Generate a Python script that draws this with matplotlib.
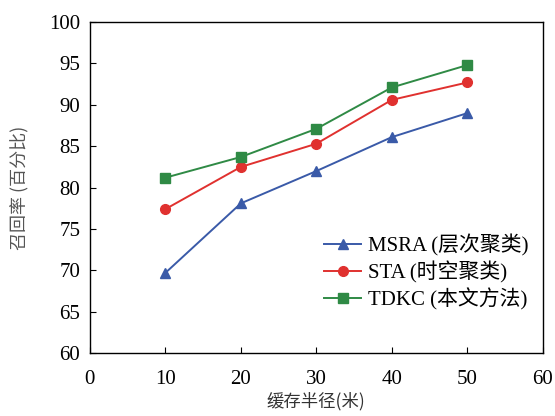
import matplotlib
matplotlib.use('Agg')
import matplotlib.pyplot as plt

plt.rcParams['font.family'] = ['Liberation Serif', 'Noto Sans CJK SC']

radius = [10, 20, 30, 40, 50]
msra = [69.7, 78.1, 82.0, 86.1, 89.0]
sta = [77.4, 82.5, 85.3, 90.6, 92.7]
tdkc = [81.2, 83.7, 87.1, 92.1, 94.8]

fig = plt.figure(figsize=(5.55, 4.16), dpi=100)
ax = fig.add_axes([0.162, 0.151, 0.816, 0.796])

ax.plot(radius, msra, color='#3a5aa8', marker='^', markersize=7, linewidth=1.4, label='MSRA (层次聚类)')
ax.plot(radius, sta, color='#e0312f', marker='o', markersize=7, linewidth=1.4, label='STA (时空聚类)')
ax.plot(radius, tdkc, color='#2f8a45', marker='s', markersize=6.5, linewidth=1.4, label='TDKC (本文方法)')

ax.set_xlim(0, 60)
ax.set_ylim(60, 100)
ax.set_xticks(range(0, 61, 10))
ax.set_yticks(range(60, 101, 5))
ax.tick_params(direction='in', labelsize=15, length=4)
ax.tick_params(axis='x', pad=12)
ax.tick_params(axis='y', pad=7)
for s in ax.spines.values():
    s.set_linewidth(1.0)

ax.set_xlabel('缓存半径(米)', fontsize=12.5, family=['Noto Sans CJK SC'], color='#333333', labelpad=2)
ax.set_ylabel('召回率 (百分比)', fontsize=13, family=['Noto Sans CJK SC'], color='#555555', labelpad=14)

ax.legend(loc='lower right', bbox_to_anchor=(1.0, 0.085), frameon=False, fontsize=15, handlelength=1.8,
          handletextpad=0.3, labelspacing=0.22, borderaxespad=0.3)

fig.savefig('out.png', dpi=100)
